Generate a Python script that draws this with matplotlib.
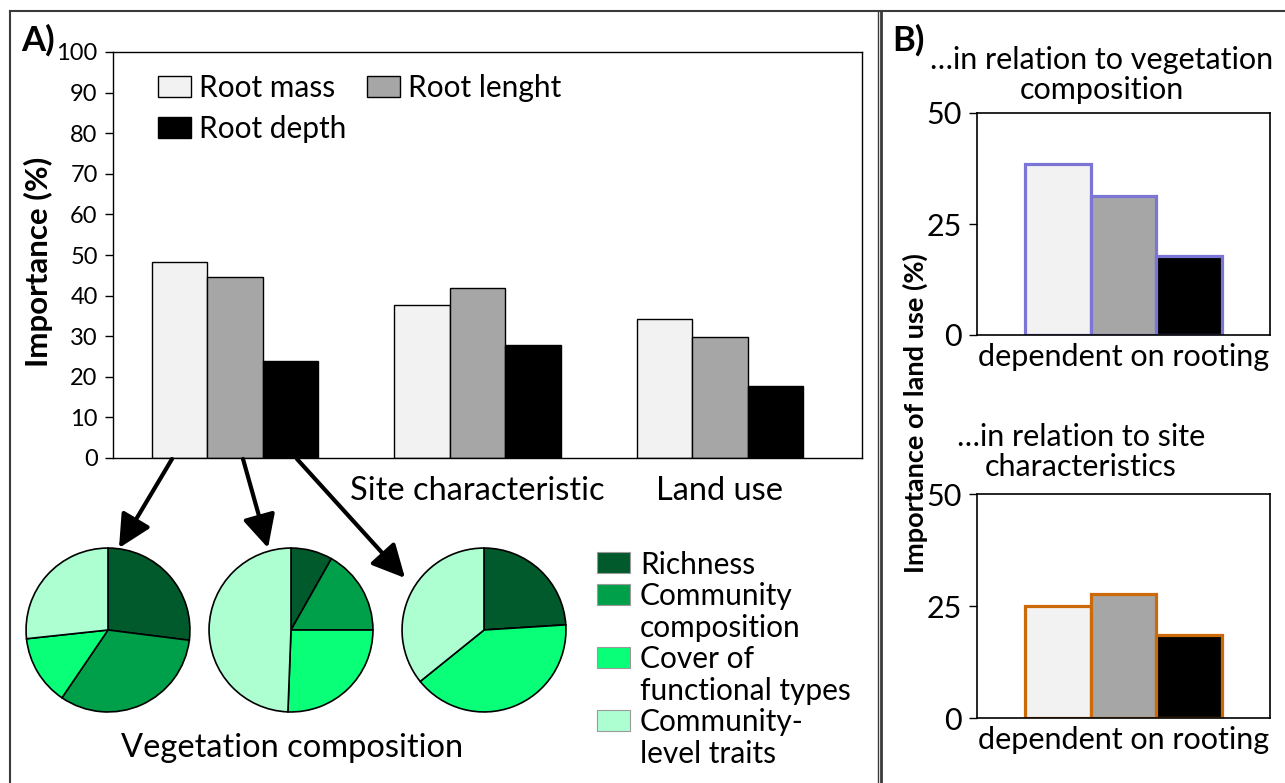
import matplotlib
matplotlib.use("Agg")
import matplotlib.pyplot as plt
from matplotlib.patches import Rectangle, FancyArrowPatch
from matplotlib.lines import Line2D
import numpy as np

plt.rcParams['font.family'] = ['Lato', 'DejaVu Sans']

# --- data ---
groups = ['', 'Site characteristic', 'Land use']
root_traits = ['Root mass', 'Root lenght', 'Root depth']
root_mass = [48.3, 37.6, 34.2]
root_length = [44.6, 41.8, 29.9]
root_depth = [24.0, 27.8, 17.7]

pie_labels = ['Richness', 'Community\ncomposition', 'Cover of\nfunctional types', 'Community-\nlevel traits']
pie_mass = [27.0, 32.5, 13.8, 26.7]
pie_length = [8.2, 16.8, 25.6, 49.4]
pie_depth = [24.0, 0.0, 40.2, 35.8]

landuse_veg = [38.6, 31.4, 17.8]
landuse_site = [25.1, 27.7, 18.6]

bar_colors = ['#f2f2f2', '#a6a6a6', '#000000']
pie_colors = ['#005a2b', '#00a04a', '#0aff78', '#adffd2']

W, H = 1285, 783
fig = plt.figure(figsize=(W / 100, H / 100), dpi=100)


def px(x0, y0, x1, y1):
    # pixel box (top-left origin) -> figure fraction rect
    return [x0 / W, 1 - y1 / H, (x1 - x0) / W, (y1 - y0) / H]


# --- panel A bars ---
ax = fig.add_axes(px(113, 52, 862, 458))
x = np.arange(len(groups))
bw = 0.229
series = [root_mass, root_length, root_depth]
bars = []
for i, vals in enumerate(series):
    b = ax.bar(x + (i - 1) * bw, vals, bw, color=bar_colors[i], edgecolor='black',
               linewidth=1, label=root_traits[i])
    bars.append(b)
ax.set_xlim(-0.503, 2.586)
ax.set_ylim(0, 100)
ax.set_yticks(range(0, 101, 10))
ax.set_xticks(x)
ax.set_xticklabels(groups, fontsize=23.5)
ax.tick_params(axis='x', length=0, pad=13)
ax.tick_params(axis='y', labelsize=17, length=6, width=1, pad=5)
for s in ax.spines.values():
    s.set_linewidth(1)
ax.legend([bars[0], bars[2], bars[1]], [root_traits[0], root_traits[2], root_traits[1]],
          ncol=2, loc='upper left', bbox_to_anchor=(0.028, 1.005), frameon=False,
          fontsize=21.5, handlelength=1.1, handleheight=0.7, handletextpad=0.27,
          columnspacing=0.7, labelspacing=0.45, borderpad=0.3)
fig.text(38 / W, 1 - 262 / H, 'Importance (%)', fontsize=22.5, fontweight='bold',
         rotation=90, ha='center', va='center')

# --- pies ---
pie_sets = [pie_mass, pie_length, pie_depth]
centers = [108, 291, 484]
r = 82
for cx, vals in zip(centers, pie_sets):
    pa = fig.add_axes(px(cx - r - 2, 630 - r - 2, cx + r + 2, 630 + r + 2))
    pa.pie(vals, colors=pie_colors, startangle=90, counterclock=False, radius=1,
           wedgeprops=dict(edgecolor='black', linewidth=1.2))
    pa.set_xlim(-1.025, 1.025)
    pa.set_ylim(-1.025, 1.025)
    pa.set_aspect('equal')
    pa.axis('off')

fig.text(292 / W, 1 - 748 / H, 'Vegetation composition', fontsize=23.5, ha='center', va='center')

# arrows from bars to pies
starts = [(172, 459), (243, 459), (297, 459)]
ends = [(119, 548), (268, 548), (405, 578)]
for (sx, sy), (ex, ey) in zip(starts, ends):
    arr = FancyArrowPatch((sx / W, 1 - sy / H), (ex / W, 1 - ey / H), transform=fig.transFigure,
                          arrowstyle='-|>,head_length=1.0,head_width=0.5', mutation_scale=20,
                          color='black', linewidth=3, shrinkA=0, shrinkB=0)
    fig.patches.append(arr)

# pie legend
centers_y = [562, 594, 657, 720]
for lab, col, yc in zip(pie_labels, pie_colors, centers_y):
    fig.patches.append(Rectangle((597 / W, 1 - (yc + 10.5) / H), 33 / W, 21 / H, transform=fig.transFigure,
                                 facecolor=col, edgecolor='#9a9a9a', linewidth=0.8))
    for j, line in enumerate(lab.split('\n')):
        fig.text(640 / W, 1 - (yc + 31.5 * j) / H, line, fontsize=21.5, ha='left', va='center_baseline')

# --- panel B ---
def land_panel(box, vals, edge, title, title_x, title_y):
    bx = fig.add_axes(px(*box))
    for i, v in enumerate(vals):
        bx.bar(i - 1, v, 1.0, color=bar_colors[i], edgecolor=edge, linewidth=2.3)
    bx.set_xlim(-2.24, 2.24)
    bx.set_ylim(0, 50)
    bx.set_yticks([0, 25, 50])
    bx.set_xticks([0])
    bx.set_xticklabels(['dependent on rooting'], fontsize=22)
    bx.tick_params(axis='x', length=0, pad=6)
    bx.tick_params(axis='y', labelsize=22, length=6, width=1, pad=5)
    for s in bx.spines.values():
        s.set_linewidth(1.2)
    for j, line in enumerate(title.split('\n')):
        fig.text(title_x / W, 1 - (title_y + 30 * j) / H, line, fontsize=22, ha='center',
                 va='center_baseline')
    return bx

land_panel((977, 113, 1270, 335), landuse_veg, '#7b76d6',
           '\u2026in relation to vegetation\ncomposition', 1102, 57)
land_panel((977, 494, 1270, 718), landuse_site, '#cc6a0a',
           '\u2026in relation to site\ncharacteristics', 1081, 435)
fig.text(915 / W, 1 - 413 / H, 'Importance of land use (%)', fontsize=19.5, fontweight='bold',
         rotation=90, ha='center', va='center')

# panel labels and frames
fig.text(21 / W, 1 - 40 / H, 'A)', fontsize=25, fontweight='bold', ha='left', va='center')
fig.text(892 / W, 1 - 40 / H, 'B)', fontsize=25, fontweight='bold', ha='left', va='center')
frame_col = '#3a3a3a'
fig.lines.append(Line2D([10 / W, 1], [1 - 10.5 / H] * 2, transform=fig.transFigure, color=frame_col, lw=1.5))
fig.lines.append(Line2D([10 / W] * 2, [0, 1 - 10.5 / H], transform=fig.transFigure, color=frame_col, lw=1.5))
fig.lines.append(Line2D([877.5 / W] * 2, [0, 1 - 10.5 / H], transform=fig.transFigure, color=frame_col, lw=1))
fig.lines.append(Line2D([881 / W] * 2, [0, 1 - 10.5 / H], transform=fig.transFigure, color=frame_col, lw=2))

fig.savefig('out.png', dpi=100)
